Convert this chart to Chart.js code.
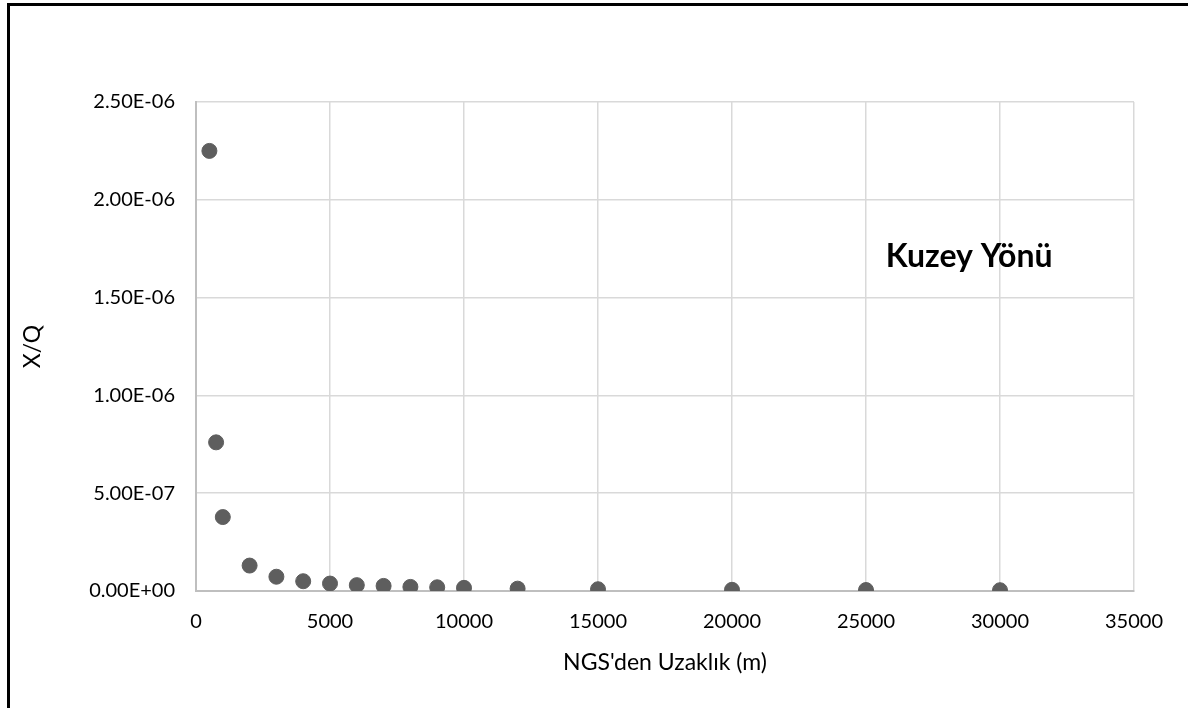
<!DOCTYPE html>
<html>
<head>
<meta charset="utf-8">
<script src="https://cdn.jsdelivr.net/npm/chart.js@4.4.1/dist/chart.umd.min.js"></script>
<style>
  html, body { margin: 0; padding: 0; background: #fff; overflow: hidden; }
  #wrap { position: relative; width: 1188px; height: 708px; }
  #frame { position: absolute; left: 7px; top: 3px; width: 1300px; height: 800px;
           border-left: 3px solid #000; border-top: 3px solid #000; box-sizing: border-box; }
  canvas { position: absolute; left: 0; top: 0; }
</style>
</head>
<body>
<div id="wrap">
  <div id="frame"></div>
  <canvas id="c" width="1188" height="708"></canvas>
</div>
<script>
// Distance from the plant (m)
const distances = [500, 750, 1000, 2000, 3000, 4000, 5000, 6000, 7000, 8000, 9000, 10000, 12000, 15000, 20000, 25000, 30000];
// Dispersion factor X/Q
const xqValues = [2.25e-6, 7.6e-7, 3.78e-7, 1.3e-7, 7.3e-8, 5.0e-8, 3.8e-8, 3.0e-8, 2.6e-8, 2.1e-8, 1.9e-8, 1.6e-8, 1.2e-8, 9e-9, 6e-9, 5e-9, 4e-9];
const xTicks = [0, 5000, 10000, 15000, 20000, 25000, 30000, 35000];
const yTicks = [0, 5e-7, 1e-6, 1.5e-6, 2e-6, 2.5e-6];
const xTitle = "NGS'den Uzaklık (m)";
const yTitle = "X/Q";
const noteText = "Kuzey Yönü";
const notePos = { x: 28850, y: 1.71e-6 };

function sci(v) {
  if (Math.abs(v) < 1e-20) return "0.00E+00";
  const [m, e] = v.toExponential(2).split("e");
  const n = parseInt(e, 10);
  const sign = n < 0 ? "-" : "+";
  const abs = Math.abs(n);
  return m + "E" + sign + (abs < 10 ? "0" + abs : String(abs));
}

const notePlugin = {
  id: 'note',
  afterDatasetsDraw(chart) {
    const { ctx, scales } = chart;
    ctx.save();
    ctx.font = "bold 32px Lato";
    ctx.fillStyle = "#000";
    ctx.textAlign = "center";
    ctx.textBaseline = "middle";
    ctx.fillText(noteText, scales.x.getPixelForValue(notePos.x), scales.y.getPixelForValue(notePos.y));
    ctx.restore();
  }
};

const tickFont = { family: "Lato", size: 20 };
const titleFont = { family: "Lato", size: 23 };

new Chart(document.getElementById('c'), {
  type: 'scatter',
  data: {
    datasets: [{
      data: distances.map((d, i) => ({ x: d, y: xqValues[i] })),
      backgroundColor: '#5e5e5e',
      borderColor: '#5e5e5e',
      pointRadius: 7.5,
      pointHoverRadius: 7.5
    }]
  },
  options: {
    responsive: false,
    animation: false,
    layout: { padding: { left: 0, top: 102, right: 54, bottom: 0 } },
    plugins: { legend: { display: false }, tooltip: { enabled: false } },
    scales: {
      x: {
        type: 'linear',
        min: 0, max: 35000,
        afterFit(s) { s.height = 117; },
        afterBuildTicks(s) { s.ticks = xTicks.map(v => ({ value: v })); },
        ticks: { font: tickFont, color: '#000', padding: 19, maxRotation: 0, callback: v => String(v) },
        grid: { color: '#d9d9d9', lineWidth: 1.5, drawTicks: false },
        border: { color: '#bfbfbf', width: 2 },
        title: { display: true, text: xTitle, font: titleFont, color: '#000', padding: { top: 0, bottom: 32 } }
      },
      y: {
        type: 'linear',
        min: 0, max: 2.5e-6,
        afterFit(s) { s.width = 196; },
        afterBuildTicks(s) { s.ticks = yTicks.map(v => ({ value: v })); },
        ticks: { font: tickFont, color: '#000', padding: 21, callback: v => sci(v) },
        grid: { color: '#d9d9d9', lineWidth: 1.5, drawTicks: false },
        border: { color: '#bfbfbf', width: 2 },
        title: { display: true, text: yTitle, font: titleFont, color: '#000', padding: { top: 19, bottom: 0 } }
      }
    }
  },
  plugins: [notePlugin]
});
</script>
</body>
</html>
